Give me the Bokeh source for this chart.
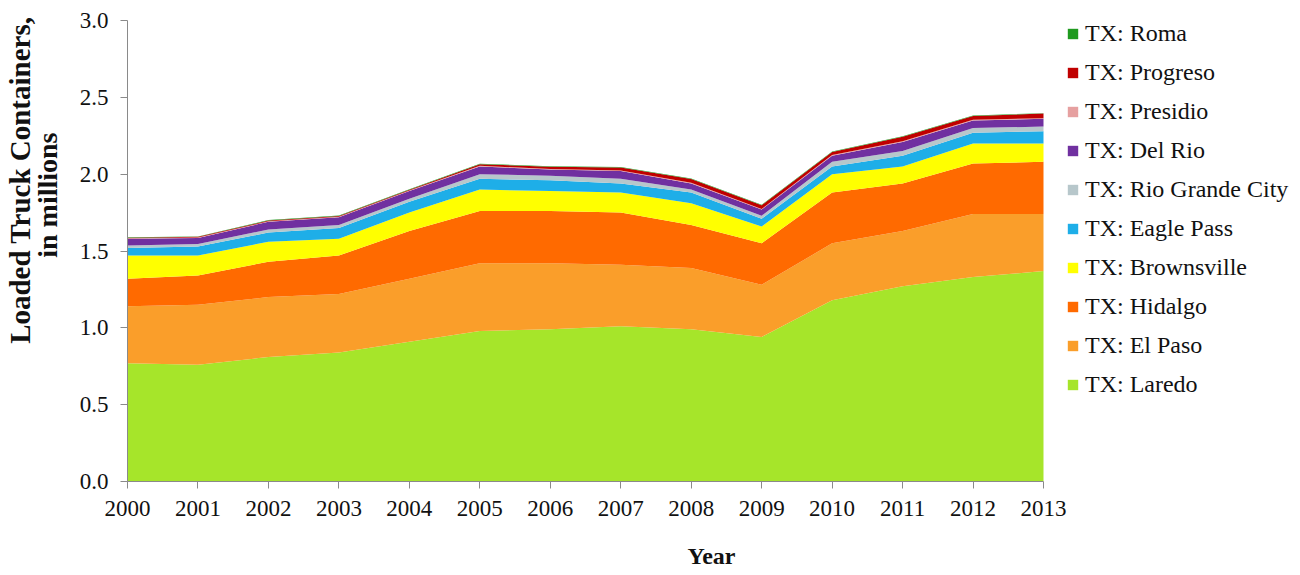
from bokeh.plotting import figure
from bokeh.models import ColumnDataSource, Legend, LegendItem, FixedTicker, NumeralTickFormatter, Range1d, Title
from bokeh.embed import file_html
from bokeh.resources import INLINE

years = [2000, 2001, 2002, 2003, 2004, 2005, 2006, 2007, 2008, 2009, 2010, 2011, 2012, 2013]

laredo      = [0.77, 0.76, 0.81, 0.84, 0.91, 0.98, 0.99, 1.01, 0.99, 0.94, 1.18, 1.27, 1.33, 1.37]
el_paso     = [0.37, 0.39, 0.39, 0.38, 0.41, 0.44, 0.43, 0.40, 0.40, 0.34, 0.37, 0.36, 0.41, 0.37]
hidalgo     = [0.18, 0.19, 0.23, 0.25, 0.31, 0.34, 0.34, 0.34, 0.28, 0.27, 0.33, 0.31, 0.33, 0.34]
brownsville = [0.15, 0.13, 0.13, 0.11, 0.12, 0.14, 0.13, 0.13, 0.14, 0.11, 0.12, 0.11, 0.13, 0.12]
eagle_pass  = [0.05, 0.06, 0.06, 0.07, 0.07, 0.07, 0.07, 0.06, 0.07, 0.05, 0.05, 0.07, 0.07, 0.08]
rio_grande  = [0.015, 0.015, 0.02, 0.02, 0.02, 0.03, 0.03, 0.03, 0.02, 0.02, 0.03, 0.03, 0.03, 0.03]
del_rio     = [0.045, 0.04, 0.05, 0.05, 0.05, 0.05, 0.04, 0.05, 0.04, 0.04, 0.04, 0.06, 0.05, 0.05]
presidio    = [0.003, 0.003, 0.003, 0.003, 0.003, 0.004, 0.004, 0.004, 0.004, 0.003, 0.004, 0.004, 0.004, 0.004]
progreso    = [0.004, 0.004, 0.005, 0.005, 0.006, 0.010, 0.015, 0.020, 0.025, 0.025, 0.020, 0.030, 0.025, 0.030]
roma        = [0.003, 0.003, 0.003, 0.003, 0.003, 0.003, 0.003, 0.003, 0.003, 0.003, 0.003, 0.003, 0.003, 0.003]

names = ["TX: Laredo", "TX: El Paso", "TX: Hidalgo", "TX: Brownsville", "TX: Eagle Pass",
         "TX: Rio Grande City", "TX: Del Rio", "TX: Presidio", "TX: Progreso", "TX: Roma"]
colors = ["#A6E52A", "#FA9E2A", "#FF6A00", "#FFFF00", "#1EAEE8",
          "#B7C7CB", "#7030A0", "#E6A0A0", "#C00000", "#1F9A1F"]
y_ticks = [0.0, 0.5, 1.0, 1.5, 2.0, 2.5, 3.0]
y_title_1 = "Loaded Truck Containers,"
y_title_2 = "in millions"
x_title = "Year"

keys = ["laredo", "el_paso", "hidalgo", "brownsville", "eagle_pass",
        "rio_grande", "del_rio", "presidio", "progreso", "roma"]
series = [laredo, el_paso, hidalgo, brownsville, eagle_pass,
          rio_grande, del_rio, presidio, progreso, roma]
data = {"year": years}
for k, s in zip(keys, series):
    data[k] = s
source = ColumnDataSource(data)

FONT = "Liberation Serif"
TXT = "#111111"

# layout: plot frame spans the full width to host the legend on its right;
# the data region (2000-2013) occupies the left 916 px of it.
W, H = 1295, 572
LEFT, TOP, BOTTOM = 127, 20, 91
DATA_PX = 916
frame_w = W - LEFT
x_end = years[0] + (years[-1] - years[0]) * frame_w / DATA_PX

p = figure(width=W, height=H, output_backend="svg", toolbar_location=None,
           x_range=Range1d(years[0], x_end), y_range=Range1d(0, 3),
           min_border_left=LEFT, min_border_right=0, min_border_top=TOP, min_border_bottom=BOTTOM)
p.outline_line_color = None
p.xgrid.visible = False
p.ygrid.visible = False

rs = p.varea_stack(stackers=keys, x="year", color=colors, source=source)

items = [LegendItem(label=n, renderers=[r]) for n, r in zip(names, rs)][::-1]
legend = Legend(items=items, location=(DATA_PX + 23, 83), margin=0, padding=0,
                border_line_color=None, background_fill_alpha=0,
                glyph_width=13, glyph_height=13, label_standoff=6,
                label_height=26, spacing=12,
                label_text_font=FONT, label_text_font_size="24px", label_text_color=TXT)
p.add_layout(legend)

p.xaxis.ticker = FixedTicker(ticks=years)
p.xaxis.bounds = (years[0], years[-1])
p.yaxis.ticker = FixedTicker(ticks=y_ticks)
p.yaxis.formatter = NumeralTickFormatter(format="0.0")

for ax in (p.xaxis[0], p.yaxis[0]):
    ax.axis_line_color = "#8a8a8a"
    ax.major_tick_line_color = "#8a8a8a"
    ax.major_tick_in = 0
    ax.major_tick_out = 7
    ax.minor_tick_line_color = None
    ax.major_label_text_font = FONT
    ax.major_label_text_font_size = "23px"
    ax.major_label_text_color = TXT

p.xaxis.major_label_standoff = 12
p.xaxis.axis_label = x_title
p.xaxis.axis_label_standoff = 24
p.xaxis.axis_label_text_font = FONT
p.xaxis.axis_label_text_font_style = "bold"
p.xaxis.axis_label_text_font_size = "24px"
p.xaxis.axis_label_text_color = TXT
p.yaxis.major_label_standoff = 12

t2 = Title(text=y_title_2, align="right", offset=112, standoff=23, vertical_align="top",
           text_font=FONT, text_font_style="bold", text_font_size="28px", text_color=TXT)
t1 = Title(text=y_title_1, align="right", offset=-4, standoff=-31, vertical_align="bottom",
           text_font=FONT, text_font_style="bold", text_font_size="29px", text_color=TXT)
p.add_layout(t2, "left")
p.add_layout(t1, "left")

open("out.html", "w").write(file_html(p, INLINE))
